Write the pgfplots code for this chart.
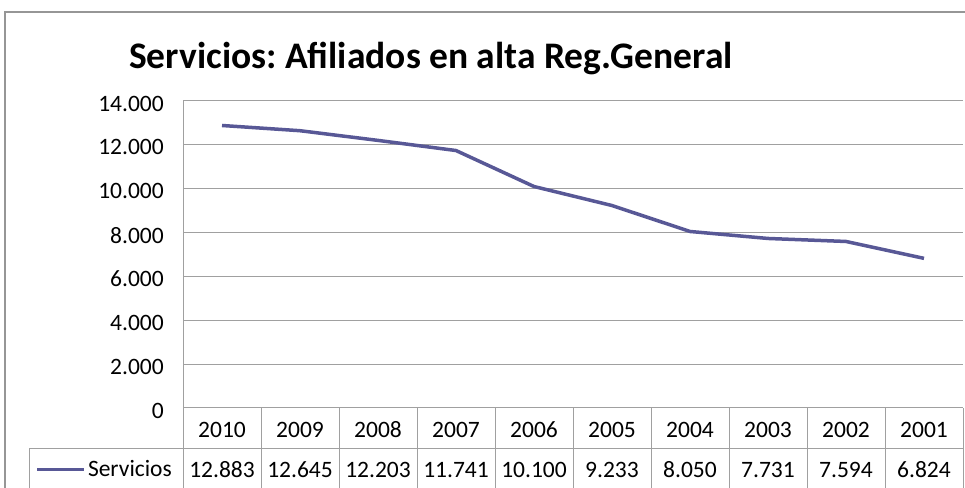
\documentclass[border=0pt]{standalone}
\usepackage{fontspec}
\setmainfont{Carlito}[Numbers=Lining]
\usepackage{pgfplots}
\pgfplotsset{compat=1.18}
\usepackage{pgfplotstable}
\definecolor{serie}{RGB}{88,88,150}
\definecolor{gridg}{RGB}{160,160,160}
\definecolor{bord}{RGB}{150,150,150}
\pgfplotstableread{
x year y
0 2010 12883
1 2009 12645
2 2008 12203
3 2007 11741
4 2006 10100
5 2005 9233
6 2004 8050
7 2003 7731
8 2002 7594
9 2001 6824
}\datatab
\begin{document}
\frenchspacing
\begin{tikzpicture}
\useasboundingbox (0,0) rectangle (965pt,487pt);
\clip (0,0) rectangle (965pt,487pt);
\draw[bord, line width=1.5pt] (5pt,-10pt) -- (5pt,475pt) -- (980pt,475pt);
\node[font=\fontsize{37.5}{45}\selectfont\bfseries, anchor=center] at (431pt,429pt) {Servicios: Afiliados en alta Reg.General};
\begin{axis}[
  at={(183pt,79pt)}, anchor=south west,
  scale only axis, width=780pt, height=307pt,
  xmin=-0.5, xmax=9.5, ymin=0, ymax=14000,
  clip=false,
  axis x line*=bottom, axis y line*=left,
  axis line style={gridg, line width=1pt, -},
  ytick={0,2000,...,14000},
  scaled y ticks=false,
  ymajorgrids, grid style={gridg, line width=1pt},
  xtick={0,...,9},
  xticklabels={2010,2009,2008,2007,2006,2005,2004,2003,2002,2001},
  minor xtick={-0.5,0.5,...,9.5},
  major tick length=0pt, minor tick length=80pt,
  tick align=outside,
  minor tick style={gridg, line width=1pt},
  tick label style={font=\fontsize{23.5}{28}\selectfont},
  xticklabel style={anchor=base, inner sep=0pt, yshift=-29pt},
  yticklabel style={anchor=east, inner sep=0pt, xshift=-19pt, yshift=-2.5pt},
  /pgf/number format/.cd, fixed, precision=0, 1000 sep={.}, assume math mode=true,
  /pgfplots/.cd,
  legend style={at={(-0.0115,-0.2)}, anchor=east, draw=none, fill=none, inner sep=0pt,
    font=\fontsize{23.5}{28}\selectfont},
  legend image code/.code={\draw[#1] (0pt,0pt) -- (47pt,0pt);},
]
\addplot[serie, line width=3.5pt] table[x=x, y=y] {\datatab};
\addlegendentry{Servicios}
\addplot[draw=none, forget plot, nodes near coords, point meta=\thisrow{y},
  nodes near coords style={anchor=base, inner sep=0pt, font=\fontsize{23.5}{28}\selectfont}]
  table[x=x, y expr=-3192] {\datatab};
\end{axis}
\draw[gridg, line width=1pt] (29pt,39pt) -- (963pt,39pt);
\draw[gridg, line width=1pt] (29pt,39pt) -- (29pt,-5pt);
\end{tikzpicture}
\end{document}
